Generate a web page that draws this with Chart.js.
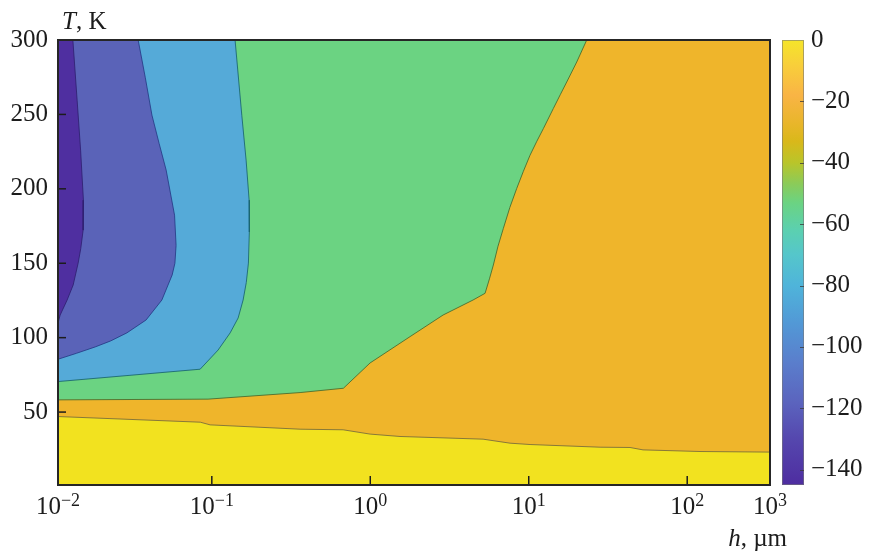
<!DOCTYPE html>
<html>
<head>
<meta charset="utf-8">
<script src="https://cdn.jsdelivr.net/npm/chart.js@4.4.0/dist/chart.umd.min.js"></script>
<style>
  html, body { margin: 0; padding: 0; background: #fff; }
  #wrap { width: 870px; height: 552px; position: relative; }
</style>
</head>
<body>
<div id="wrap"><canvas id="chart"></canvas></div>
<script>
// axis limits: h in um (log), T in K, colour scale
const H_MIN = 0.0107;
const H_MAX = 333;
const T_MIN = 1;
const T_MAX = 300;
const CB_MIN = -145;
const CB_MAX = 0;

const xTickValues = [H_MIN, 0.1, 1, 10, 100, H_MAX];
const xTickPowers = [-2, -1, 0, 1, 2, 3];
const yTickValues = [50, 100, 150, 200, 250, 300];
const cbTickValues = [0, -20, -40, -60, -80, -100, -120, -140];

// contour boundaries (h, T)
const yellowH = [H_MIN, 0.0846, 0.0976, 0.3606, 0.6737, 0.997, 1.54, 5.149, 7.62, 10.19, 28.18, 43.56, 52.6, 120.4, H_MAX];
const yellowT = [47.0, 43.2, 41.4, 38.5, 38.1, 35.2, 33.6, 31.8, 29.1, 28.2, 26.4, 26.2, 24.6, 23.5, 23.1];

const greenH = [H_MIN, 0.0948, 0.3606, 0.6765, 0.997, 1.783, 2.879, 4.452, 5.301, 5.65, 5.98, 6.40, 6.914, 7.60, 8.40, 9.25, 10.19, 11.25, 12.37, 14.30, 15.80, 17.37, 20.08, 23.22];
const greenT = [58.2, 58.7, 63.1, 66.0, 83.0, 100.7, 115.2, 125.3, 129.8, 139.5, 148.8, 161.5, 173.4, 187.5, 200.3, 211.8, 222.6, 232.0, 240.5, 254.0, 263.2, 271.8, 285.2, 300];

const blueH = [H_MIN, 0.1402, 0.1546, 0.1646, 0.1720, 0.1725, 0.1702, 0.1650, 0.1576, 0.1466, 0.1305, 0.1096, 0.0844, H_MIN];
const blueT = [300, 300, 249.5, 219.3, 192.4, 171.0, 150.1, 137.0, 125.3, 113.2, 103.2, 91.7, 78.8, 70.5];

const indigoH = [H_MIN, 0.0343, 0.0380, 0.0419, 0.0465, 0.0515, 0.0582, 0.0595, 0.0585, 0.0562, 0.0484, 0.0385, 0.0291, 0.0230, 0.0184, 0.0140, H_MIN];
const indigoT = [300, 300, 275.0, 249.5, 230.5, 212.6, 182.3, 162.0, 150.0, 142.1, 125.3, 111.9, 103.2, 97.8, 93.8, 89.5, 85.5];

const purpleH = [H_MIN, 0.01328, 0.01413, 0.01486, 0.01548, 0.01542, 0.01490, 0.01434, 0.01334, 0.01222, 0.01104, H_MIN];
const purpleT = [300, 300, 259.5, 226.0, 192.4, 172.3, 160.0, 150.1, 135.4, 125.3, 115.2, 109.9];

// colour bar (value -> colour)
const cbStopValues = [0, -8, -18, -28, -33, -40, -47, -53, -62, -70, -80, -92, -105, -118, -130, -145];
const cbStopColors = ['#F5E52A', '#F8CF3A', '#F9B445', '#E7B628', '#D9B81A', '#B9C52A', '#8ACB5A', '#6BD382',
  '#5BD0B0', '#55C6CB', '#4FB4DA', '#5299D6', '#5A7ECC', '#5B64BE', '#5547AE', '#4E2DA0'];

const FONT = '"Liberation Serif", "Times New Roman", serif';
const INK = '#1c1c1c';

function zip(hs, ts) {
  return hs.map((h, i) => ({ x: h, y: ts[i] }));
}

function area(label, data, color, line, fill, order) {
  return {
    label,
    data,
    xAxisID: 'x',
    yAxisID: 'y',
    backgroundColor: color,
    borderColor: line || 'transparent',
    borderWidth: line ? 1 : 0,
    pointRadius: 0,
    tension: 0,
    fill,
    order,
  };
}

function drawPow(ctx, x, y, p) {
  const base = '10';
  const sup = p < 0 ? '\u2212' + (-p) : String(p);
  ctx.font = '25px ' + FONT;
  const wb = ctx.measureText(base).width;
  ctx.font = '18px ' + FONT;
  const ws = ctx.measureText(sup).width;
  const x0 = x - (wb + ws) / 2;
  ctx.textAlign = 'left';
  ctx.textBaseline = 'alphabetic';
  ctx.font = '25px ' + FONT;
  ctx.fillText(base, x0, y);
  ctx.font = '18px ' + FONT;
  ctx.fillText(sup, x0 + wb, y - 8);
}

// frame, inward ticks, colour bar and axis captions
const decorPlugin = {
  id: 'decor',
  afterDraw(chart) {
    const { ctx, chartArea: a, scales } = chart;
    const xs = scales.x, ys = scales.y, cb = scales.cb;
    ctx.save();

    // colour bar
    const bx0 = a.right + 12, bx1 = a.right + 34;
    const top = cb.getPixelForValue(CB_MAX), bot = cb.getPixelForValue(CB_MIN);
    const g = ctx.createLinearGradient(0, top, 0, bot);
    cbStopValues.forEach((v, i) => {
      g.addColorStop((cb.getPixelForValue(v) - top) / (bot - top), cbStopColors[i]);
    });
    ctx.fillStyle = g;
    ctx.fillRect(bx0, top, bx1 - bx0, bot - top);
    ctx.strokeStyle = 'rgba(120,120,120,0.6)';
    ctx.lineWidth = 1;
    ctx.strokeRect(bx0 + 0.5, top + 0.5, bx1 - bx0 - 1, bot - top - 1);
    ctx.strokeStyle = 'rgba(60,60,60,0.8)';
    cbTickValues.forEach(v => {
      if (v === CB_MAX) return;
      const py = Math.round(cb.getPixelForValue(v)) + 0.5;
      ctx.beginPath();
      ctx.moveTo(bx1 - 4, py);
      ctx.lineTo(bx1, py);
      ctx.stroke();
    });

    // inward ticks
    ctx.strokeStyle = INK;
    ctx.lineWidth = 1.5;
    yTickValues.forEach(v => {
      if (v === T_MAX) return;
      const py = ys.getPixelForValue(v);
      ctx.beginPath();
      ctx.moveTo(a.left, py);
      ctx.lineTo(a.left + 8, py);
      ctx.stroke();
    });
    xTickValues.forEach(v => {
      if (v === H_MIN || v === H_MAX) return;
      const px = xs.getPixelForValue(v);
      ctx.beginPath();
      ctx.moveTo(px, a.bottom);
      ctx.lineTo(px, a.bottom - 9);
      ctx.stroke();
    });

    // frame
    ctx.lineWidth = 2;
    ctx.strokeStyle = '#262626';
    ctx.strokeRect(a.left, a.top, a.right - a.left, a.bottom - a.top);

    // x tick labels with superscripts
    ctx.fillStyle = INK;
    xTickValues.forEach((v, i) => {
      drawPow(ctx, xs.getPixelForValue(v), a.bottom + 29, xTickPowers[i]);
    });

    // axis captions
    ctx.textBaseline = 'alphabetic';
    ctx.textAlign = 'left';
    ctx.font = 'italic 25px ' + FONT;
    ctx.fillText('T', 62, 29);
    const w = ctx.measureText('T').width;
    ctx.font = '25px ' + FONT;
    ctx.fillText(', K', 62 + w, 29);

    ctx.font = 'italic 25px ' + FONT;
    const hw = ctx.measureText('h').width;
    ctx.font = '25px ' + FONT;
    const rw = ctx.measureText(', \u00B5m').width;
    const sx = 787 - hw - rw;
    ctx.font = 'italic 25px ' + FONT;
    ctx.fillText('h', sx, 546);
    ctx.font = '25px ' + FONT;
    ctx.fillText(', \u00B5m', sx + hw, 546);

    ctx.restore();
  }
};

const chart = new Chart(document.getElementById('chart'), {
  type: 'line',
  data: {
    datasets: [
      area('purple', zip(purpleH, purpleT), '#4F2FA0', 'rgba(45,30,110,0.8)', 'shape', 1),
      area('indigo', zip(indigoH, indigoT), '#5A63B8', 'rgba(35,55,130,0.8)', 'shape', 2),
      area('blue', zip(blueH, blueT), '#55AAD8', 'rgba(25,100,110,0.85)', 'shape', 3),
      area('green', zip(greenH, greenT), '#6BD382', 'rgba(70,105,45,0.85)', 'end', 4),
      area('yellow', zip(yellowH, yellowT), '#F2E21F', 'rgba(110,100,60,0.8)', 'start', 5),
      area('orange', [{ x: H_MIN, y: T_MAX }, { x: H_MAX, y: T_MAX }], '#EFB52B', null, 'start', 6),
    ],
  },
  options: {
    responsive: true,
    maintainAspectRatio: false,
    animation: false,
    events: [],
    layout: { padding: { top: 40, left: 0, right: 0, bottom: 0 } },
    plugins: {
      legend: { display: false },
      tooltip: { enabled: false },
    },
    scales: {
      x: {
        type: 'logarithmic',
        position: 'bottom',
        min: H_MIN,
        max: H_MAX,
        z: 1,
        afterBuildTicks: axis => { axis.ticks = xTickValues.slice(1, -1).map(v => ({ value: v })); },
        afterFit: axis => { axis.height = 67; },
        ticks: { display: false },
        grid: { color: 'rgba(0,0,0,0.07)', drawTicks: false },
        border: { display: false },
      },
      y: {
        type: 'linear',
        position: 'left',
        min: T_MIN,
        max: T_MAX,
        z: 1,
        afterBuildTicks: axis => { axis.ticks = yTickValues.map(v => ({ value: v })); },
        afterFit: axis => { axis.width = 58; },
        ticks: {
          padding: 10,
          color: INK,
          font: { family: FONT, size: 25 },
        },
        grid: { color: 'rgba(0,0,0,0.07)', drawTicks: false },
        border: { display: false },
      },
      cb: {
        type: 'linear',
        position: 'right',
        min: CB_MIN,
        max: CB_MAX,
        afterBuildTicks: axis => { axis.ticks = cbTickValues.map(v => ({ value: v })); },
        afterFit: axis => { axis.width = 100; },
        ticks: {
          padding: 5,
          color: INK,
          font: { family: FONT, size: 25 },
          callback: v => (v < 0 ? '\u2212' + (-v) : String(v)),
        },
        // transparent tick marks only push the labels past the colour bar
        grid: { display: true, drawOnChartArea: false, drawTicks: true, tickLength: 36, tickColor: 'transparent' },
        border: { display: false },
      },
    },
  },
  plugins: [decorPlugin],
});
</script>
</body>
</html>
